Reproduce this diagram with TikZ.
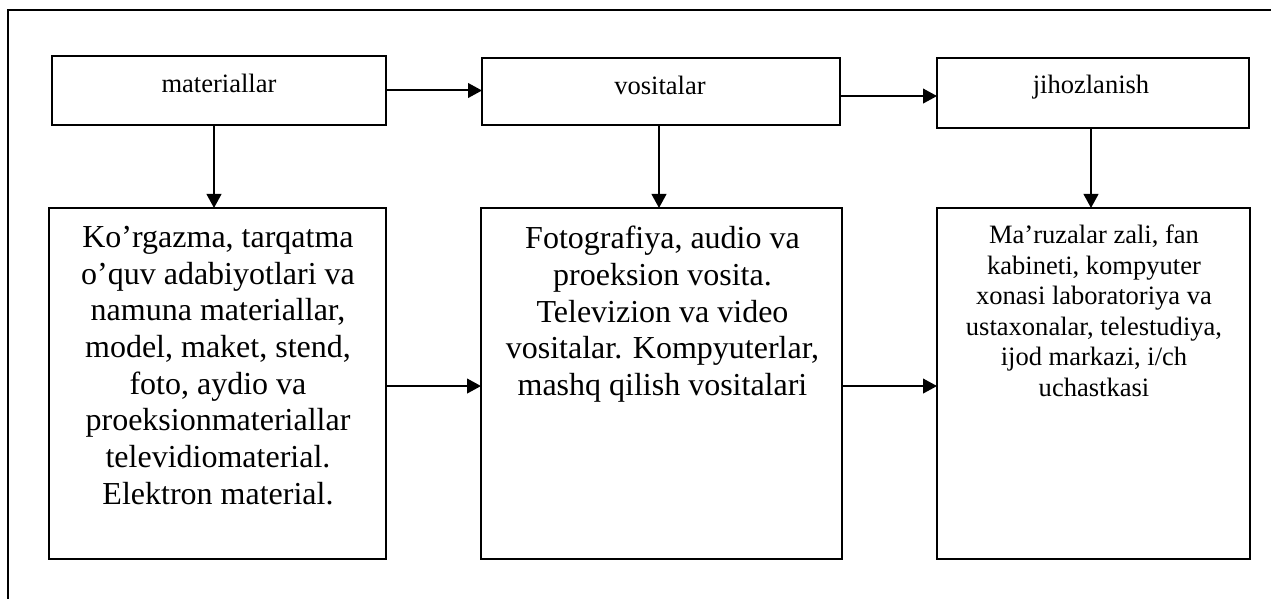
\documentclass[tikz,border=0pt]{standalone}
\usepackage{fontspec}
\setmainfont{Liberation Serif}
\usetikzlibrary{arrows.meta}
\newlength\px \setlength\px{0.75pt}
\begin{document}
\begin{tikzpicture}[x=0.75pt,y=-0.75pt,
  box/.style={draw, line width=0.9pt, inner sep=0pt, outer sep=0pt},
  arr/.style={line width=1.5pt, -{Triangle[length=10.5pt,width=11pt]}},
  lab/.style={font=\fontsize{19.9pt}{22.9pt}\selectfont, inner sep=0pt, anchor=base},
  bigtext/.style={font=\fontsize{24pt}{27.5pt}\selectfont, inner sep=0pt, anchor=north, align=center},
  smalltext/.style={font=\fontsize{19.9pt}{22.9pt}\selectfont, inner sep=0pt, anchor=north, align=center},
]
\useasboundingbox (0,0) rectangle (1271,599);
\draw[line width=0.9pt] (8,599) -- (8,10) -- (1271,10);

\node[box, minimum width=334\px, minimum height=69\px] (b1) at (219,90.5) {};
\node[box, minimum width=358\px, minimum height=67\px] (b2) at (661,91.5) {};
\node[box, minimum width=312\px, minimum height=70\px] (b3) at (1093,93) {};
\node[box, minimum width=337\px, minimum height=351\px] (c1) at (217.5,383.5) {};
\node[box, minimum width=361\px, minimum height=351\px] (c2) at (661.5,383.5) {};
\node[box, minimum width=313\px, minimum height=351\px] (c3) at (1093.5,383.5) {};

\node[lab] (t1) at (219,92.7) {materiallar};
\node[lab] (t2) at (660,94.3) {vositalar};
\node[lab] (t3) at (1091,93.3) {jihozlanish};

\node[bigtext] (x1) at (218,226) {Ko’rgazma, tarqatma\\o’quv adabiyotlari va\\namuna materiallar,\\model, maket, stend,\\foto, aydio va\\proeksionmateriallar\\televidiomaterial.\\Elektron material.};
\node[bigtext] (x2) at (662.5,226) {Fotografiya, audio va\\proeksion vosita.\\Televizion va video\\vositalar. Kompyuterlar,\\mashq qilish vositalari};
\node[smalltext] (x3) at (1094,224.7) {Ma’ruzalar zali, fan\\kabineti, kompyuter\\xonasi laboratoriya va\\ustaxonalar, telestudiya,\\ijod markazi, i/ch\\uchastkasi};

\draw[arr] (b1.east) -- (b1.east -| b2.west);
\draw[arr] ([yshift=-3.4pt]b2.east) -- ([yshift=-3.4pt]b2.east -| b3.west);
\draw[arr] ([xshift=-3.75pt]b1.south) -- ([xshift=-3.75pt]b1.south |- c1.north);
\draw[arr] ([xshift=-1.5pt]b2.south) -- ([xshift=-1.5pt]b2.south |- c2.north);
\draw[arr] ([xshift=-1.5pt]b3.south) -- ([xshift=-1.5pt]b3.south |- c3.north);
\draw[arr] ([yshift=-1.9pt]c1.east) -- ([yshift=-1.9pt]c1.east -| c2.west);
\draw[arr] ([yshift=-1.9pt]c2.east) -- ([yshift=-1.9pt]c2.east -| c3.west);
\end{tikzpicture}
\end{document}
